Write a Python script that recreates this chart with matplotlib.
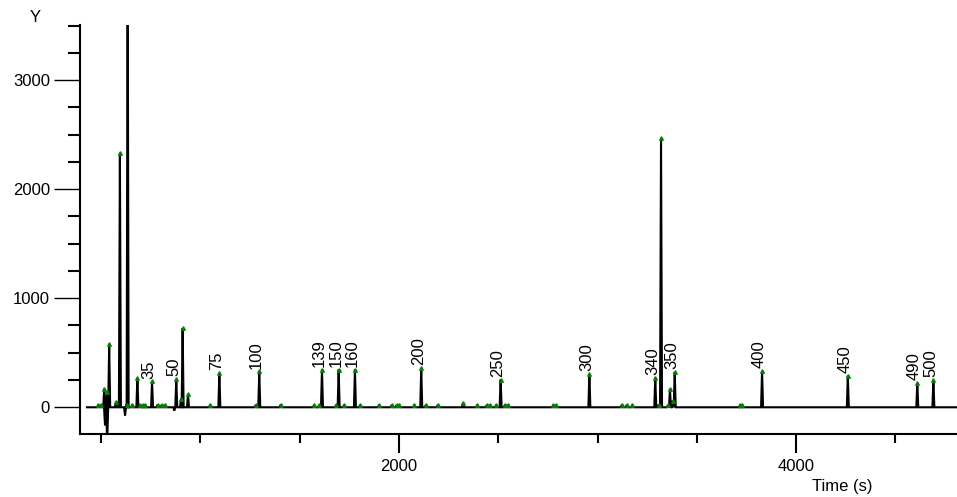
import numpy as np
import matplotlib
matplotlib.use("Agg")
import matplotlib.pyplot as plt
from matplotlib.ticker import MultipleLocator, FixedLocator

plt.rcParams['font.family'] = ['Liberation Sans', 'DejaVu Sans']
plt.rcParams['font.size'] = 12

# peaks of the trace (time in s, height)
peakTimes = [515, 529, 540, 574, 594, 633, 682, 756, 878, 902, 910, 937,
             1095, 1296, 1612, 1696, 1778, 2112, 2512, 2959,
             3291, 3320, 3365, 3379, 3389, 3829, 4261, 4611, 4692]
peakHeights = [171, 138, 578, 49, 2333, 4200, 266, 238, 257, 80, 725, 120,
               315, 330, 346, 346, 346, 358, 254, 303,
               272, 2465, 165, 60, 324, 333, 290, 223, 248]
# peaks carrying a green marker (the one at 633 runs off the top)
markedPeak = [True, True, True, True, True, False, True, True, True, True, True, True,
              True, True, True, True, True, True, True, True,
              True, True, True, True, True, True, True, True, True]

# negative dips
dipTimes = [519, 530, 620, 868]
dipHeights = [-165, -320, -75, -30]

# small bumps on the baseline, all marked in green
bumpTimes = [485, 497, 628, 656, 695, 712, 720, 784, 804, 821, 1048, 1278,
             1404, 1572, 1598, 1683, 1723, 1804, 1899, 1963, 1988, 2002,
             2077, 2135, 2195, 2322, 2394, 2442, 2458, 2489, 2534, 2551,
             2777, 2791, 3122, 3147, 3175, 3308, 3355, 3718, 3726]
bumpHeights = [22, 22, 25, 25, 25, 22, 22, 25, 22, 22, 22, 22,
               25, 22, 22, 22, 22, 22, 22, 22, 22, 22,
               22, 22, 22, 40, 22, 22, 22, 22, 25, 25,
               22, 22, 22, 22, 22, 25, 22, 22, 22]

# peak labels
labelTimes = [756, 878, 1095, 1296, 1612, 1696, 1778, 2112, 2512, 2959,
              3291, 3389, 3829, 4261, 4611, 4692]
labelHeights = [238, 257, 315, 330, 346, 346, 346, 358, 254, 303,
                272, 324, 333, 290, 223, 248]
labelTexts = ['35', '50', '75', '100', '139', '150', '160', '200', '250', '300',
              '340', '350', '400', '450', '490', '500']

traceStart, traceEnd = 428, 4811

# build the trace as narrow spikes on a flat baseline
spikes = sorted(zip(peakTimes + dipTimes + bumpTimes,
                    peakHeights + dipHeights + bumpHeights))
halfWidth = 5.0
tx, ty = [traceStart], [0.0]
for t, h in spikes:
    tx += [t - halfWidth, t, t + halfWidth]
    ty += [0.0, h, 0.0]
tx.append(traceEnd)
ty.append(0.0)

fig = plt.figure(figsize=(9.57, 4.97), dpi=100)
ax = fig.add_axes([80/957, 1-434/497, 1-80/957, (434-25)/497])

ax.plot(tx, ty, color='black', lw=1.5, solid_joinstyle='miter', zorder=2)

mx = [t for t, m in zip(peakTimes, markedPeak) if m] + bumpTimes
my = [h for h, m in zip(peakHeights, markedPeak) if m] + bumpHeights
ax.plot(mx, my, ls='none', marker='^', ms=2.6, color='#008000', mec='#008000', zorder=3)

for t, h, s in zip(labelTimes, labelHeights, labelTexts):
    ax.annotate(s, (t, h), xytext=(-2, 2), textcoords='offset points',
                rotation=90, ha='center', va='bottom', fontsize=12)

ax.set_xlim(393, 4811)
ax.set_ylim(-245, 3505)

for side in ['top', 'right']:
    ax.spines[side].set_visible(False)
for side in ['left', 'bottom']:
    ax.spines[side].set_linewidth(1.5)

ax.xaxis.set_major_locator(FixedLocator([2000, 4000]))
ax.xaxis.set_minor_locator(FixedLocator([500, 1000, 1500, 2500, 3000, 3500, 4500]))
ax.yaxis.set_major_locator(MultipleLocator(1000))
ax.yaxis.set_minor_locator(MultipleLocator(250))

ax.tick_params(axis='x', which='major', direction='out', length=13.7, width=1.5, pad=4, labelsize=12)
ax.tick_params(axis='x', which='minor', direction='out', length=6.5, width=1.5)
ax.tick_params(axis='y', which='major', direction='out', length=18.7, width=1.0, pad=3, labelsize=12)
ax.tick_params(axis='y', which='minor', direction='out', length=9.0, width=1.5)

fig.text(35/957, 1-17/497, 'Y', ha='center', va='center', fontsize=12)
fig.text(812/957, 1-486/497, 'Time (s)', ha='left', va='center', fontsize=12)

fig.savefig('out.png', dpi=100)
